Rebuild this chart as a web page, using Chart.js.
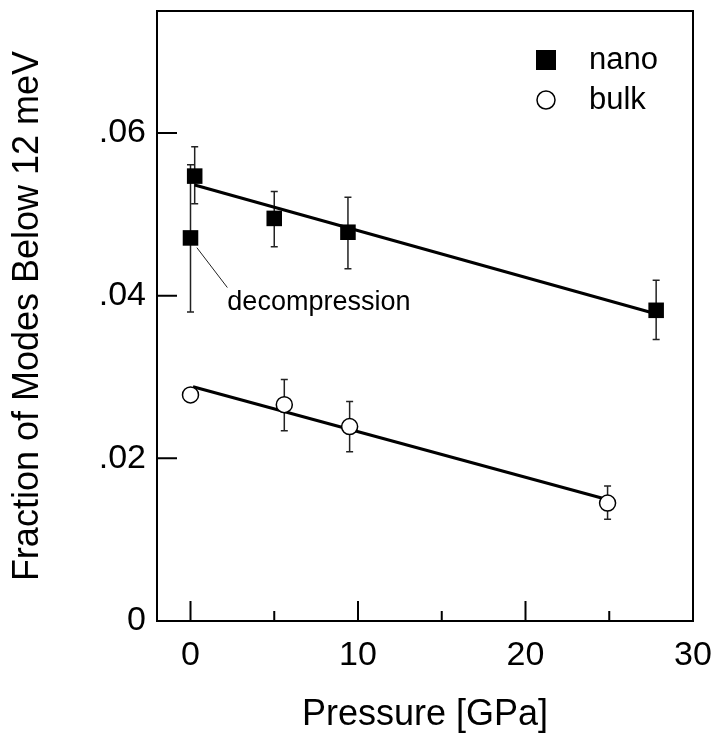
<!DOCTYPE html>
<html>
<head>
    <title>Fraction of Modes Below 12 meV</title>
    <script src="https://cdn.jsdelivr.net/npm/chart.js"></script>
    <style>
        body { margin: 0; background: #fff; }
        #wrap { width: 717px; height: 749px; }
    </style>
</head>
<body>
    <div id="wrap"><canvas id="grafica"></canvas></div>
    <script>
        // nano: pressure (GPa), fraction, error bar low/high
        const nanoP  = [0.25, 0.0, 5.0, 9.4, 27.8];
        const nanoF  = [0.0547, 0.0471, 0.0495, 0.0478, 0.0382];
        const nanoLo = [0.0513, 0.0380, 0.0460, 0.0433, 0.0346];
        const nanoHi = [0.0583, 0.0561, 0.0528, 0.0521, 0.0419];

        // bulk
        const bulkP  = [0.0, 5.6, 9.5, 24.9];
        const bulkF  = [0.0278, 0.0266, 0.0239, 0.0145];
        const bulkLo = [null, 0.0234, 0.0208, 0.0125];
        const bulkHi = [null, 0.0297, 0.0270, 0.0166];

        // linear fits (end points)
        const nanoFitP = [0.25, 27.4];
        const nanoFitF = [0.0536, 0.0380];
        const bulkFitP = [0.15, 24.6];
        const bulkFitF = [0.0288, 0.0151];

        const xTicks = [0, 5, 10, 15, 20, 25, 30];
        const xLabels = [0, 10, 20, 30];
        const yTicks = [0, 0.02, 0.04, 0.06];

        // leader line + text for the decompression point
        const decompLine = [[0.38, 0.0459], [2.2, 0.0410]];
        const decompText = { x: 2.2, y: 0.0391, text: 'decompression' };

        const FONT = "'Liberation Sans', Arial, sans-serif";

        const pts = (xs, ys) => xs.map((x, i) => ({ x: x, y: ys[i] }));

        // no extra room for overhanging tick labels, layout padding does it
        const noPad = s => {
            s.paddingTop = 0; s.paddingBottom = 0;
            s.paddingLeft = 0; s.paddingRight = 0;
        };

        // error bars, ticks, frame, legend and annotation
        const extras = {
            id: 'extras',
            beforeDatasetsDraw(chart) {
                const ctx = chart.ctx;
                const xs = chart.scales.x, ys = chart.scales.y;
                ctx.save();
                ctx.strokeStyle = '#222';
                ctx.lineWidth = 1.5;
                const bars = (P, Lo, Hi) => P.forEach((p, i) => {
                    if (Lo[i] == null) return;
                    const px = xs.getPixelForValue(p);
                    const y1 = ys.getPixelForValue(Lo[i]);
                    const y2 = ys.getPixelForValue(Hi[i]);
                    ctx.beginPath();
                    ctx.moveTo(px, y1); ctx.lineTo(px, y2);
                    ctx.moveTo(px - 3.5, y1); ctx.lineTo(px + 3.5, y1);
                    ctx.moveTo(px - 3.5, y2); ctx.lineTo(px + 3.5, y2);
                    ctx.stroke();
                });
                bars(nanoP, nanoLo, nanoHi);
                bars(bulkP, bulkLo, bulkHi);

                // decompression note
                ctx.lineWidth = 1;
                ctx.beginPath();
                ctx.moveTo(xs.getPixelForValue(decompLine[0][0]), ys.getPixelForValue(decompLine[0][1]));
                ctx.lineTo(xs.getPixelForValue(decompLine[1][0]), ys.getPixelForValue(decompLine[1][1]));
                ctx.stroke();
                ctx.fillStyle = '#000';
                ctx.font = '27px ' + FONT;
                ctx.textBaseline = 'middle';
                ctx.textAlign = 'left';
                ctx.fillText(decompText.text, xs.getPixelForValue(decompText.x), ys.getPixelForValue(decompText.y));
                ctx.restore();
            },
            afterDraw(chart) {
                const ctx = chart.ctx;
                const a = chart.chartArea;
                const xs = chart.scales.x, ys = chart.scales.y;
                ctx.save();
                ctx.strokeStyle = '#000';
                ctx.lineWidth = 2;
                ctx.strokeRect(a.left, a.top, a.right - a.left, a.bottom - a.top);
                ctx.beginPath();
                xTicks.forEach(v => {
                    const px = xs.getPixelForValue(v);
                    const len = xLabels.includes(v) ? 20 : 10;
                    ctx.moveTo(px, a.bottom); ctx.lineTo(px, a.bottom - len);
                });
                yTicks.forEach(v => {
                    const py = ys.getPixelForValue(v);
                    ctx.moveTo(a.left, py); ctx.lineTo(a.left + 20, py);
                });
                ctx.stroke();

                // legend inside the plot
                const lx = a.right - 147, ly = a.top + 49;
                const ds = chart.data.datasets;
                ctx.fillStyle = '#000';
                ctx.fillRect(lx - 10, ly - 10, 20, 20);
                ctx.beginPath();
                ctx.lineWidth = 1.5;
                ctx.arc(lx, ly + 40, 9, 0, Math.PI * 2);
                ctx.fillStyle = '#fff';
                ctx.fill();
                ctx.stroke();
                ctx.fillStyle = '#000';
                ctx.font = '31px ' + FONT;
                ctx.textBaseline = 'middle';
                ctx.fillText(ds[0].label, lx + 43, ly);
                ctx.fillText(ds[1].label, lx + 43, ly + 40);
                ctx.restore();
            }
        };

        new Chart(document.getElementById('grafica'), {
            type: 'scatter',
            data: {
                datasets: [{
                    label: 'nano',
                    data: pts(nanoP, nanoF),
                    pointStyle: 'rect',
                    pointRadius: 11,
                    pointBackgroundColor: '#000',
                    pointBorderWidth: 0,
                    order: 1
                }, {
                    label: 'bulk',
                    data: pts(bulkP, bulkF),
                    pointStyle: 'circle',
                    pointRadius: 8,
                    pointBackgroundColor: '#fff',
                    pointBorderColor: '#000',
                    pointBorderWidth: 1.5,
                    order: 1
                }, {
                    type: 'line',
                    label: 'nano fit',
                    data: pts(nanoFitP, nanoFitF),
                    borderColor: '#000',
                    borderWidth: 3,
                    pointRadius: 0,
                    order: 2
                }, {
                    type: 'line',
                    label: 'bulk fit',
                    data: pts(bulkFitP, bulkFitF),
                    borderColor: '#000',
                    borderWidth: 3,
                    pointRadius: 0,
                    order: 2
                }]
            },
            options: {
                responsive: true,
                maintainAspectRatio: false,
                animation: false,
                layout: { padding: { top: 11, right: 24, left: 0, bottom: 0 } },
                plugins: {
                    legend: { display: false },
                    tooltip: { enabled: false }
                },
                scales: {
                    x: {
                        type: 'linear',
                        min: -2,
                        max: 30,
                        afterBuildTicks: s => { s.ticks = xTicks.map(v => ({ value: v })); },
                        afterFit: s => { s.height = 128; noPad(s); },
                        grid: { display: false, drawTicks: false },
                        border: { display: false },
                        ticks: {
                            color: '#000',
                            padding: 14,
                            maxRotation: 0,
                            autoSkip: false,
                            font: { family: FONT, size: 34 },
                            callback: v => xLabels.includes(v) ? String(v) : ''
                        },
                        title: {
                            display: true,
                            text: 'Pressure [GPa]',
                            color: '#000',
                            font: { family: FONT, size: 36 },
                            padding: { top: 0, bottom: 12 }
                        }
                    },
                    y: {
                        min: 0,
                        max: 0.075,
                        afterBuildTicks: s => { s.ticks = yTicks.map(v => ({ value: v })); },
                        afterFit: s => { s.width = 157; noPad(s); },
                        grid: { display: false, drawTicks: false },
                        border: { display: false },
                        ticks: {
                            color: '#000',
                            padding: 11,
                            autoSkip: false,
                            font: { family: FONT, size: 34 },
                            callback: v => v === 0 ? '0' : v.toFixed(2).replace(/^0/, '')
                        },
                        title: {
                            display: true,
                            text: 'Fraction of Modes Below 12 meV',
                            color: '#000',
                            font: { family: FONT, size: 36 },
                            padding: { top: 6, bottom: 0 }
                        }
                    }
                }
            },
            plugins: [extras]
        });
    </script>
</body>
</html>
